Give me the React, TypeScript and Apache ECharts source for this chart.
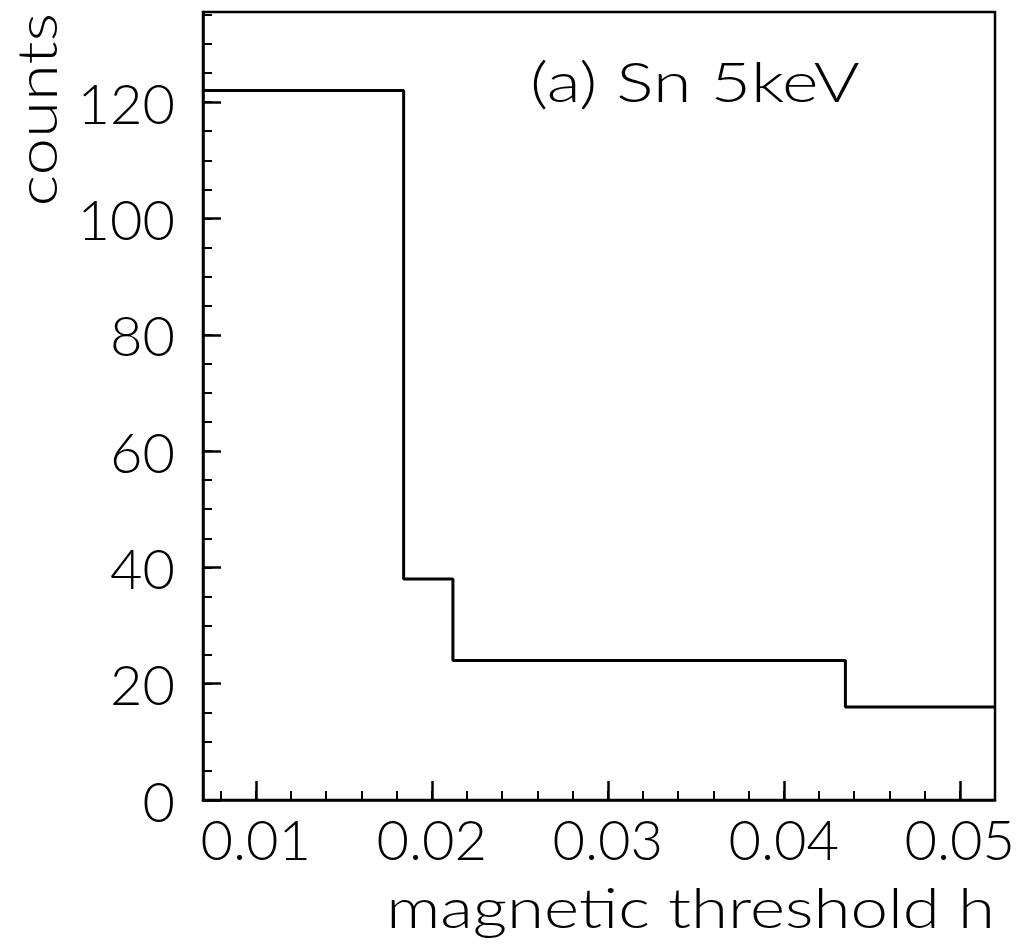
import React, { useEffect, useRef } from "react";
import * as echarts from "echarts";

// Histogram bin edges (magnetic threshold h) and counts per bin
const binEdges = [0.007, 0.0184, 0.0212, 0.0435, 0.052];
const binCounts = [122, 38, 24, 16];

const xMin = 0.007;
const xMax = 0.052;
const yMin = 0;
const yMax = 135.5;

const xMajorStep = 0.01;
const xMinorStep = 0.002;
const yMajorStep = 20;
const yMinorStep = 5;

const xTitle = "magnetic threshold h";
const yTitle = "counts";
const panelLabel = "(a) Sn 5keV";

const FONT = "Lato";
const FS = 56;
const WIDE = 1.2;

export default function App() {
  const ref = useRef<HTMLDivElement>(null);

  useEffect(() => {
    document.body.style.margin = "0";
    const chart = echarts.init(ref.current!, null, { renderer: "svg" });

    const stepData = binEdges.map((e, i) => [e, binCounts[Math.min(i, binCounts.length - 1)]]);

    const gridRect = { left: 203, right: 34, top: 12, bottom: 145 };
    const labelStyle = { color: "#000", fontFamily: FONT, fontSize: FS, fontWeight: 300 as any };
    const textStyle = (text: string, align: string) => ({
      text,
      fill: "#000",
      fontFamily: FONT,
      fontSize: FS,
      fontWeight: 300,
      align,
      verticalAlign: "middle",
    });

    chart.setOption({
      animation: false,
      backgroundColor: "#fff",
      grid: [
        { ...gridRect, show: true, borderColor: "#000", borderWidth: 2.5, backgroundColor: "transparent" },
        { ...gridRect, show: false },
      ],
      xAxis: [
        {
          type: "value",
          gridIndex: 0,
          min: xMin,
          max: xMax,
          splitNumber: 5,
          minInterval: xMajorStep,
          maxInterval: xMajorStep,
          axisLine: { show: true, lineStyle: { color: "#000", width: 2.5 } },
          axisTick: { show: true, inside: true, length: 19, lineStyle: { color: "#000", width: 2.5 } },
          splitLine: { show: false },
          axisLabel: {
            ...labelStyle,
            margin: 10,
            showMinLabel: false,
            showMaxLabel: false,
            formatter: (v: number) => v.toFixed(2),
          },
        },
        {
          type: "value",
          gridIndex: 1,
          min: xMin,
          max: xMax,
          splitNumber: 22,
          minInterval: xMinorStep,
          maxInterval: xMinorStep,
          axisLine: { show: false },
          axisTick: { show: true, inside: true, length: 9, lineStyle: { color: "#000", width: 2 } },
          splitLine: { show: false },
          axisLabel: { show: false },
        },
      ],
      yAxis: [
        {
          type: "value",
          gridIndex: 0,
          min: yMin,
          max: yMax,
          interval: yMajorStep,
          axisLine: { show: true, lineStyle: { color: "#000", width: 2.5 } },
          axisTick: { show: true, inside: true, length: 18, lineStyle: { color: "#000", width: 2.5 } },
          splitLine: { show: false },
          axisLabel: {
            ...labelStyle,
            margin: 28,
            showMaxLabel: false,
          },
        },
        {
          type: "value",
          gridIndex: 1,
          min: yMin,
          max: yMax,
          interval: yMinorStep,
          axisLine: { show: false },
          axisTick: { show: true, inside: true, length: 9, lineStyle: { color: "#000", width: 2 } },
          splitLine: { show: false },
          axisLabel: { show: false },
        },
      ],
      series: [
        {
          type: "line",
          xAxisIndex: 0,
          yAxisIndex: 0,
          step: "end",
          data: stepData,
          showSymbol: false,
          symbol: "none",
          lineStyle: { color: "#000", width: 3 },
          silent: true,
        },
      ],
      graphic: [
        {
          type: "text",
          x: 995,
          y: 906,
          scaleX: WIDE,
          style: textStyle(xTitle, "right"),
        },
        {
          type: "text",
          x: 35,
          y: 13,
          rotation: Math.PI / 2,
          scaleX: WIDE,
          style: textStyle(yTitle, "right"),
        },
        {
          type: "text",
          x: 530,
          y: 80,
          scaleX: 1.25,
          style: textStyle(panelLabel, "left"),
        },
      ],
    });

    return () => chart.dispose();
  }, []);

  return <div ref={ref} style={{ width: 1029, height: 945 }} />;
}
